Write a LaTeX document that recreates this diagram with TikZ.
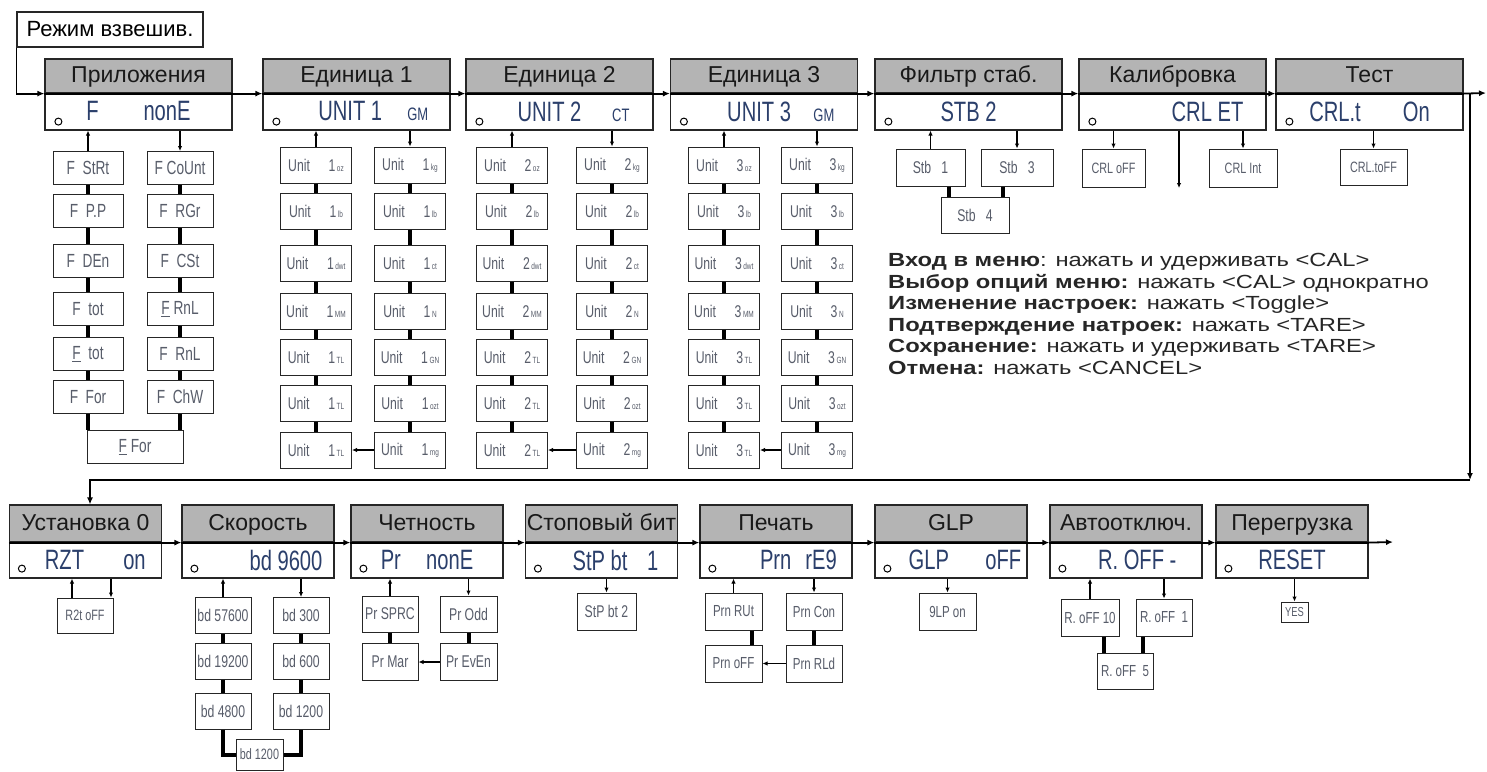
\documentclass[tikz,border=0pt]{standalone}
\usepackage{fontspec}
\setmainfont{Liberation Sans}
\newfontfamily\lcdfont[FakeStretch=0.72]{Liberation Sans}
\newfontfamily\keyfont[FakeStretch=1.25]{Liberation Sans}
\usetikzlibrary{arrows.meta}

\definecolor{lcd}{HTML}{2B3F6B}
\definecolor{optgray}{HTML}{585D6A}
\definecolor{hdrgray}{HTML}{B4B4B4}

\tikzset{
  hdr/.style={draw=black!85,line width=1.2pt,fill=hdrgray,minimum height=34pt,inner sep=0pt,
    text height=16pt,text depth=3pt,text=black!90,font=\fontsize{23}{23}\selectfont},
  disp/.style={draw=black!85,line width=1.2pt,fill=white,minimum height=37pt,inner sep=0pt,
    text=lcd,font=\lcdfont\fontsize{28}{28}\selectfont},
  opt/.style={draw=black!85,line width=1pt,fill=white,minimum width=70pt,minimum height=36pt,
    inner sep=0pt,text=optgray,font=\lcdfont\fontsize{17}{17}\selectfont},
  link/.style={line width=4pt},
  flow/.style={line width=1.8pt,-{Latex[length=7pt,width=6pt]}},
  pick/.style={line width=1.2pt,-{Latex[length=5pt,width=4.5pt]}}
}

\begin{document}
\begin{tikzpicture}[x=1pt,y=-1pt]
  \useasboundingbox (0,0) rectangle (1487,771);
  % Entry box
  \node[draw=black!85,line width=1.2pt,minimum width=186pt,minimum height=35pt,inner sep=0pt,
    font=\fontsize{22}{22}\selectfont] (mode) at (110,29.5) {\makebox[0pt]{Режим взвешив.}};

  % Top menu row
  \foreach \nm/\cx/\title/\shown in {
      app/138.5/Приложения/{F\hspace{1.6em}nonE},
      u1/356.5/Единица 1/{\hspace{1.2em}UNIT 1\hspace{0.9em}{\fontsize{18}{18}\selectfont GM}},
      u2/559.5/Единица 2/{\hspace{1em}UNIT 2\hspace{1.1em}{\fontsize{18}{18}\selectfont CT}},
      u3/764/Единица 3/{\hspace{1.2em}UNIT 3\hspace{0.8em}{\fontsize{18}{18}\selectfont GM}},
      stb/968.5/Фильтр стаб./{STB 2},
      cal/1172.5/Калибровка/{\hspace{2.5em}CRL ET},
      tst/1369.5/Тест/{CRL.t\hspace{1.5em}On}}
  {
    \node[hdr,minimum width=187pt] (\nm-h) at (\cx,76) {\makebox[0pt]{\title}};
    \node[disp,minimum width=187pt] (\nm-d) at (\cx,111.5) {\shown};
    \draw[line width=1.8pt] (\nm-h.south west) -- (\nm-h.south east);
    \draw[line width=1pt] ([xshift=14pt,yshift=9pt]\nm-d.south west) circle (3.5pt);
  }

  % Bottom menu row
  \foreach \nm/\cx/\title/\shown in {
      azt/85.5/Установка 0/{\hspace{0.7em}RZT\hspace{1.4em}on},
      bd/258/Скорость/{\hspace{2em}bd 9600},
      par/427/Четность/{Pr\hspace{0.9em}nonE},
      stp/601.5/Стоповый бит/{\hspace{1em}StP bt\hspace{0.7em}1},
      prn/776/Печать/{\hspace{1.6em}Prn\hspace{0.5em}rE9},
      glp/951/GLP/{\hspace{1em}GLP\hspace{1.3em}oFF},
      aof/1126/Автоотключ./{\hspace{0.8em}R. OFF -},
      ovl/1292/Перегрузка/{RESET}}
  {
    \node[hdr,minimum width=152pt,minimum height=37pt] (\nm-h) at (\cx,523.5) {\makebox[0pt]{\title}};
    \node[disp,minimum width=152pt,minimum height=36pt] (\nm-d) at (\cx,560) {\shown};
    \draw[line width=1.8pt] (\nm-h.south west) -- (\nm-h.south east);
    \draw[line width=1pt] ([xshift=13pt,yshift=10pt]\nm-d.south west) circle (3.5pt);
  }

  % Main flow
  \coordinate (tend) at (1486,93);
  \coordinate (drop) at (1470,93);
  \coordinate (ret) at (1470,480);
  \coordinate (retl) at (90,480);
  \coordinate (bend) at (1393,542);
  \draw[flow] (mode.south west) |- (app-h.south west);
  \foreach \p/\q in {app/u1,u1/u2,u2/u3,u3/stb,stb/cal,cal/tst}
    \draw[flow] (\p-h.south east) -- (\q-h.south west);
  \draw[flow] (tst-h.south east) -- (tend);
  \draw[flow] (drop) -- (ret);
  \draw[flow] (ret) -- (retl) -- (azt-h.north -| retl);
  \foreach \p/\q in {azt/bd,bd/par,par/stp,stp/prn,prn/glp,glp/aof,aof/ovl}
    \draw[flow] (\p-h.south east) -- (\q-h.south west);
  \draw[flow] (ovl-h.south east) -- (bend);

  % Applications
  \foreach \y/\tl/\tr [count=\i] in {168/{F\ \ StRt}/{F\ CoUnt},211/{F\ \ P.P}/{F\ \ RGr},
      261/{F\ \ DEn}/{F\ \ CSt},309/{F\ \ tot}/{\underline{F}\ RnL},
      354/{\underline{F}\ \ tot}/{F\ \ RnL},397/{F\ \ For}/{F\ \ ChW}}
  {
    \node[opt,minimum width=70pt,minimum height=33pt,font=\lcdfont\fontsize{19}{19}\selectfont] (app-l\i) at (88,\y) {\tl};
    \node[opt,minimum width=66pt,minimum height=33pt,font=\lcdfont\fontsize{19}{19}\selectfont] (app-r\i) at (180,\y) {\tr};
  }
  \node[opt,minimum width=96pt,minimum height=33pt,font=\lcdfont\fontsize{19}{19}\selectfont] (app-b) at (135,447) {\underline{F}\ For};
  \foreach \i [evaluate=\i as \j using int(\i+1)] in {1,...,5} {
    \draw[link] (app-l\i) -- (app-l\j);
    \draw[link] (app-r\i) -- (app-r\j);
  }
  \draw[link] (app-l6.south) -- (app-l6.south |- app-b.north);
  \draw[link] (app-r6.south) -- (app-r6.south |- app-b.north);
  \draw[pick] (app-l1) -- (app-l1 |- app-d.south);
  \draw[pick] (app-r1 |- app-d.south) -- (app-r1);

  % Units 1-3
  \foreach \un/\xl/\xr in {1/316/410,2/512/612,3/724/817} {
    \foreach \y/\tl/\tr [count=\i] in {165/oz/kg,211/lb/lb,263/dwt/ct,311/MM/N,357/TL/GN,403/TL/ozt,450/TL/mg} {
      \node[opt,minimum width=71pt] (u\un-l\i) at (\xl,\y) {Unit\hspace{1.1em}\un{\fontsize{9}{9}\selectfont\,\tl}};
      \node[opt,minimum width=71pt] (u\un-r\i) at (\xr,\y) {Unit\hspace{1.1em}\un{\fontsize{9}{9}\selectfont\,\tr}};
    }
    \foreach \i [evaluate=\i as \j using int(\i+1)] in {1,...,6} {
      \draw[link] (u\un-l\i) -- (u\un-l\j);
      \draw[link] (u\un-r\i) -- (u\un-r\j);
    }
    \draw[pick] (u\un-l1) -- (u\un-l1 |- u\un-d.south);
    \draw[pick] (u\un-r1 |- u\un-d.south) -- (u\un-r1);
    \draw[pick] (u\un-r7) -- (u\un-l7);
  }

  % Stability filter
  \node[opt,minimum width=69pt,minimum height=37pt] (stb1) at (930.5,167.5) {Stb\ \ \ 1};
  \node[opt,minimum width=72pt,minimum height=37pt] (stb3) at (1017,167.5) {Stb\ \ \ 3};
  \node[opt,minimum width=68pt,minimum height=36pt] (stb4) at (975,215) {Stb\ \ \ 4};
  \draw[pick] (stb1) -- (stb1 |- stb-d.south);
  \draw[pick] (stb3 |- stb-d.south) -- (stb3);
  \draw[link] ([xshift=-26pt]stb4.north) -- ([xshift=-26pt]stb4.north |- stb1.south);
  \draw[link] ([xshift=28pt]stb4.north) -- ([xshift=28pt]stb4.north |- stb3.south);

  % Calibration and test
  \node[opt,minimum width=63pt,minimum height=38pt,font=\lcdfont\fontsize{15}{15}\selectfont] (caloff) at (1113.5,168) {CRL oFF};
  \node[opt,minimum width=68pt,minimum height=38pt,font=\lcdfont\fontsize{15}{15}\selectfont] (calint) at (1243,168) {CRL Int};
  \node[opt,minimum width=67pt,minimum height=36pt,font=\lcdfont\fontsize{15}{15}\selectfont] (caltoff) at (1373.5,167) {CRL.toFF};
  \coordinate (calend) at (1179,188);
  \draw[pick] (caloff |- cal-d.south) -- (caloff);
  \draw[pick] (calint |- cal-d.south) -- (calint);
  \draw[pick] (calend |- cal-d.south) -- (calend);
  \draw[pick] (caltoff |- tst-d.south) -- (caltoff);

  % Key legend
  \node[anchor=west,align=left,inner sep=0pt,text=black!85,font=\keyfont\fontsize{19}{21.6}\selectfont] (legend) at (888,314)
    {\textbf{Вход в меню}: нажать и удерживать <CAL>\\
     \textbf{Выбор опций меню:} нажать <CAL> однократно\\
     \textbf{Изменение настроек:} нажать <Toggle>\\
     \textbf{Подтверждение натроек:} нажать <TARE>\\
     \textbf{Сохранение:} нажать и удерживать <TARE>\\
     \textbf{Отмена:} нажать <CANCEL>};

  % Auto zero
  \node[opt,minimum width=56pt,minimum height=35pt,font=\lcdfont\fontsize{15}{15}\selectfont] (aztoff) at (85,615.5) {R2t oFF};
  \draw[pick] ([xshift=-13pt]aztoff.north) -- ([xshift=-13pt]aztoff.north |- azt-d.south);
  \draw[pick] ([xshift=26pt]aztoff.north |- azt-d.south) -- ([xshift=26pt]aztoff.north);

  % Baud rate
  \foreach \y/\tl/\tr [count=\i] in {615.5/{bd 57600}/{bd 300},661/{bd 19200}/{bd 600},711/{bd 4800}/{bd 1200}} {
    \node[opt,minimum width=56pt,font=\lcdfont\fontsize{17}{17}\selectfont] (bd-l\i) at (223,\y) {\tl};
    \node[opt,minimum width=56pt,font=\lcdfont\fontsize{17}{17}\selectfont] (bd-r\i) at (301,\y) {\tr};
  }
  \node[opt,minimum width=47pt,minimum height=31pt,font=\lcdfont\fontsize{15}{15}\selectfont] (bd-b) at (259.5,754.5) {bd 1200};
  \foreach \i [evaluate=\i as \j using int(\i+1)] in {1,2} {
    \draw[link] (bd-l\i) -- (bd-l\j);
    \draw[link] (bd-r\i) -- (bd-r\j);
  }
  \draw[link] (bd-l3.south) |- (bd-b.west);
  \draw[link] (bd-r3.south) |- (bd-b.east);
  \draw[pick] (bd-l1) -- (bd-l1 |- bd-d.south);
  \draw[pick] (bd-r1 |- bd-d.south) -- (bd-r1);

  % Parity
  \node[opt,minimum width=56pt,font=\lcdfont\fontsize{17}{17}\selectfont] (par-l1) at (390,614) {Pr SPRC};
  \node[opt,minimum width=56pt,minimum height=37pt,font=\lcdfont\fontsize{17}{17}\selectfont] (par-l2) at (390,662) {Pr Mar};
  \node[opt,minimum width=57pt,font=\lcdfont\fontsize{17}{17}\selectfont] (par-r1) at (468.5,614) {Pr Odd};
  \node[opt,minimum width=57pt,minimum height=37pt,font=\lcdfont\fontsize{17}{17}\selectfont] (par-r2) at (468.5,662) {Pr EvEn};
  \draw[link] (par-l1) -- (par-l2);
  \draw[link] (par-r1) -- (par-r2);
  \draw[pick] (par-r2) -- (par-l2);
  \draw[pick] (par-l1) -- (par-l1 |- par-d.south);
  \draw[pick] (par-r1 |- par-d.south) -- (par-r1);

  % Stop bit
  \node[opt,minimum width=59pt,minimum height=37pt,font=\lcdfont\fontsize{17}{17}\selectfont] (stp2) at (606.5,611.5) {StP bt 2};
  \draw[pick] (stp2 |- stp-d.south) -- (stp2);

  % Print
  \node[opt,minimum width=57pt,minimum height=37pt,font=\lcdfont\fontsize{16}{16}\selectfont] (prn-l1) at (733.5,611.5) {Prn RUt};
  \node[opt,minimum width=57pt,minimum height=37pt,font=\lcdfont\fontsize{16}{16}\selectfont] (prn-l2) at (733.5,663.5) {Prn oFF};
  \node[opt,minimum width=56pt,minimum height=37pt,font=\lcdfont\fontsize{16}{16}\selectfont] (prn-r1) at (814,611.5) {Prn Con};
  \node[opt,minimum width=56pt,minimum height=37pt,font=\lcdfont\fontsize{16}{16}\selectfont] (prn-r2) at (814,663.5) {Prn RLd};
  \draw[link] ([xshift=18pt]prn-l1.south) -- ([xshift=18pt]prn-l2.north);
  \draw[link] (prn-r1) -- (prn-r2);
  \draw[pick] (prn-r2) -- (prn-l2);
  \draw[pick] (prn-l1) -- (prn-l1 |- prn-d.south);
  \draw[pick] (prn-r1 |- prn-d.south) -- (prn-r1);

  % GLP
  \node[opt,minimum width=57pt,minimum height=37pt,font=\lcdfont\fontsize{16}{16}\selectfont] (glpon) at (947.5,611.5) {9LP\ on};
  \draw[pick] (glpon |- glp-d.south) -- (glpon);

  % Auto off
  \node[opt,minimum width=58pt,minimum height=37pt,font=\lcdfont\fontsize{16}{16}\selectfont] (aof-l) at (1090,617.5) {R.\ oFF 10};
  \node[opt,minimum width=56pt,minimum height=37pt,font=\lcdfont\fontsize{16}{16}\selectfont] (aof-r) at (1164,617.5) {R.\ oFF\ \ 1};
  \node[opt,minimum width=56pt,minimum height=36pt,font=\lcdfont\fontsize{16}{16}\selectfont] (aof-b) at (1125,671) {R.\ oFF\ \ 5};
  \draw[link] ([xshift=-21pt]aof-b.north) -- ([xshift=-21pt]aof-b.north |- aof-l.south);
  \draw[link] ([xshift=18pt]aof-b.north) -- ([xshift=18pt]aof-b.north |- aof-r.south);
  \draw[pick] (aof-l) -- (aof-l |- aof-d.south);
  \draw[pick] (aof-r |- aof-d.south) -- (aof-r);

  % Overload
  \node[opt,minimum width=27pt,minimum height=20pt,font=\lcdfont\fontsize{13}{13}\selectfont] (yes) at (1294.5,612) {YES};
  \draw[pick] (yes |- ovl-d.south) -- (yes);
\end{tikzpicture}
\end{document}
